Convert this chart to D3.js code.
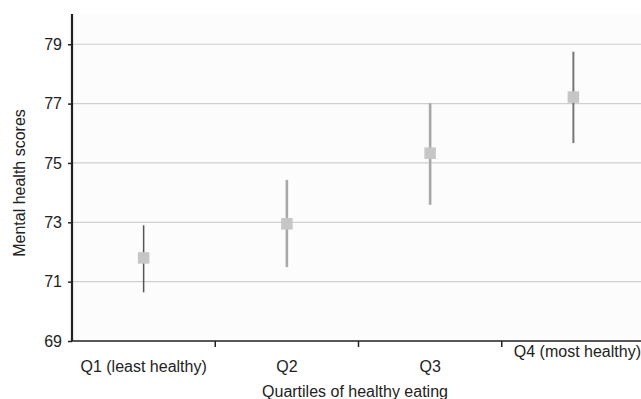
<!DOCTYPE html>
<html>
<head>
<meta charset="utf-8">
<script src="https://cdn.jsdelivr.net/npm/d3@7"></script>
<style>
  body { margin: 0; background: #fff; }
  svg { display: block; font-family: "Liberation Sans", Arial, sans-serif; }
  .grid line { stroke: #cfcfcf; stroke-width: 1.2; }
  .axis path, .axis line { stroke: #222; }
</style>
</head>
<body>
<svg width="641" height="399"></svg>
<script>
var quartiles = ["Q1 (least healthy)", "Q2", "Q3", "Q4 (most healthy)"];
var means = [71.8, 72.95, 75.33, 77.22];
var lower = [70.64, 71.49, 73.59, 75.67];
var upper = [72.9, 74.43, 77.01, 78.75];
var yTicks = [69, 71, 73, 75, 77, 79];

// per-point bar styles as in the picture
var barColor = ["#555", "#aaa", "#a8a8a8", "#777"];
var barWidth = [1.5, 2.6, 2.6, 2];

var svg = d3.select("svg"),
    margin = {top: 14, right: -4, bottom: 58, left: 72},
    width = +svg.attr("width") - margin.left - margin.right,
    height = +svg.attr("height") - margin.top - margin.bottom;

var x = d3.scaleBand().domain(quartiles).range([0, width]),
    y = d3.scaleLinear().domain([69, 80.02]).range([height, 0]);

var g = svg.append("g")
    .attr("transform", "translate(" + margin.left + "," + margin.top + ")");

g.append("rect")
    .attr("width", width)
    .attr("height", height)
    .attr("fill", "#fcfcfc");

// horizontal grid lines
g.append("g")
    .attr("class", "grid")
    .selectAll("line")
    .data(yTicks.slice(1))
    .enter().append("line")
    .attr("x1", 0)
    .attr("x2", width)
    .attr("y1", function(d) { return y(d); })
    .attr("y2", function(d) { return y(d); });

var data = quartiles.map(function(q, i) {
    return {q: q, mean: means[i], lo: lower[i], hi: upper[i], i: i};
});

// error bars
g.selectAll(".err")
    .data(data)
    .enter().append("line")
    .attr("class", "err")
    .attr("x1", function(d) { return x(d.q) + x.bandwidth() / 2; })
    .attr("x2", function(d) { return x(d.q) + x.bandwidth() / 2; })
    .attr("y1", function(d) { return y(d.hi); })
    .attr("y2", function(d) { return y(d.lo); })
    .attr("stroke", function(d) { return barColor[d.i]; })
    .attr("stroke-width", function(d) { return barWidth[d.i]; });

// mean markers
var s = 11.5;
g.selectAll(".pt")
    .data(data)
    .enter().append("rect")
    .attr("class", "pt")
    .attr("x", function(d) { return x(d.q) + x.bandwidth() / 2 - s / 2; })
    .attr("y", function(d) { return y(d.mean) - s / 2; })
    .attr("width", s)
    .attr("height", s)
    .attr("fill", "#c6c6c6");

// x axis: ticks between the categories
var xAxisG = g.append("g")
    .attr("class", "axis axis--x")
    .attr("transform", "translate(0," + height + ")");

xAxisG.append("line")
    .attr("x1", 0).attr("x2", width)
    .attr("stroke-width", 1.6);

xAxisG.selectAll(".tick")
    .data(quartiles.slice(1))
    .enter().append("line")
    .attr("x1", function(d) { return x(d); })
    .attr("x2", function(d) { return x(d); })
    .attr("y1", 0).attr("y2", 6)
    .attr("stroke-width", 1.5);

xAxisG.selectAll(".lbl")
    .data(quartiles)
    .enter().append("text")
    .attr("x", function(d, i) { return x(d) + x.bandwidth() / 2 + (i === 3 ? 4 : 0); })
    .attr("y", function(d, i) { return i === 3 ? 16 : 31; })
    .attr("text-anchor", "middle")
    .attr("fill", "#222")
    .style("font-size", "16px")
    .text(function(d) { return d; });

// y axis
var yAxis = d3.axisLeft(y).tickValues(yTicks).tickSize(4).tickPadding(6).tickFormat(d3.format("d"));

g.append("g")
    .attr("class", "axis axis--y")
    .call(yAxis)
    .call(function(a) {
        a.select(".domain").attr("d", "M0," + height + "V0").attr("stroke-width", 2.2);
        a.selectAll(".tick line").attr("stroke-width", 1.5);
        a.selectAll(".tick text").attr("fill", "#222").style("font-size", "16px");
    });

// axis titles
svg.append("text")
    .attr("transform", "translate(25,183) rotate(-90)")
    .attr("text-anchor", "middle")
    .attr("fill", "#222")
    .style("font-size", "16px")
    .text("Mental health scores");

svg.append("text")
    .attr("x", 355)
    .attr("y", 397)
    .attr("text-anchor", "middle")
    .attr("fill", "#222")
    .style("font-size", "16px")
    .text("Quartiles of healthy eating");
</script>
</body>
</html>
